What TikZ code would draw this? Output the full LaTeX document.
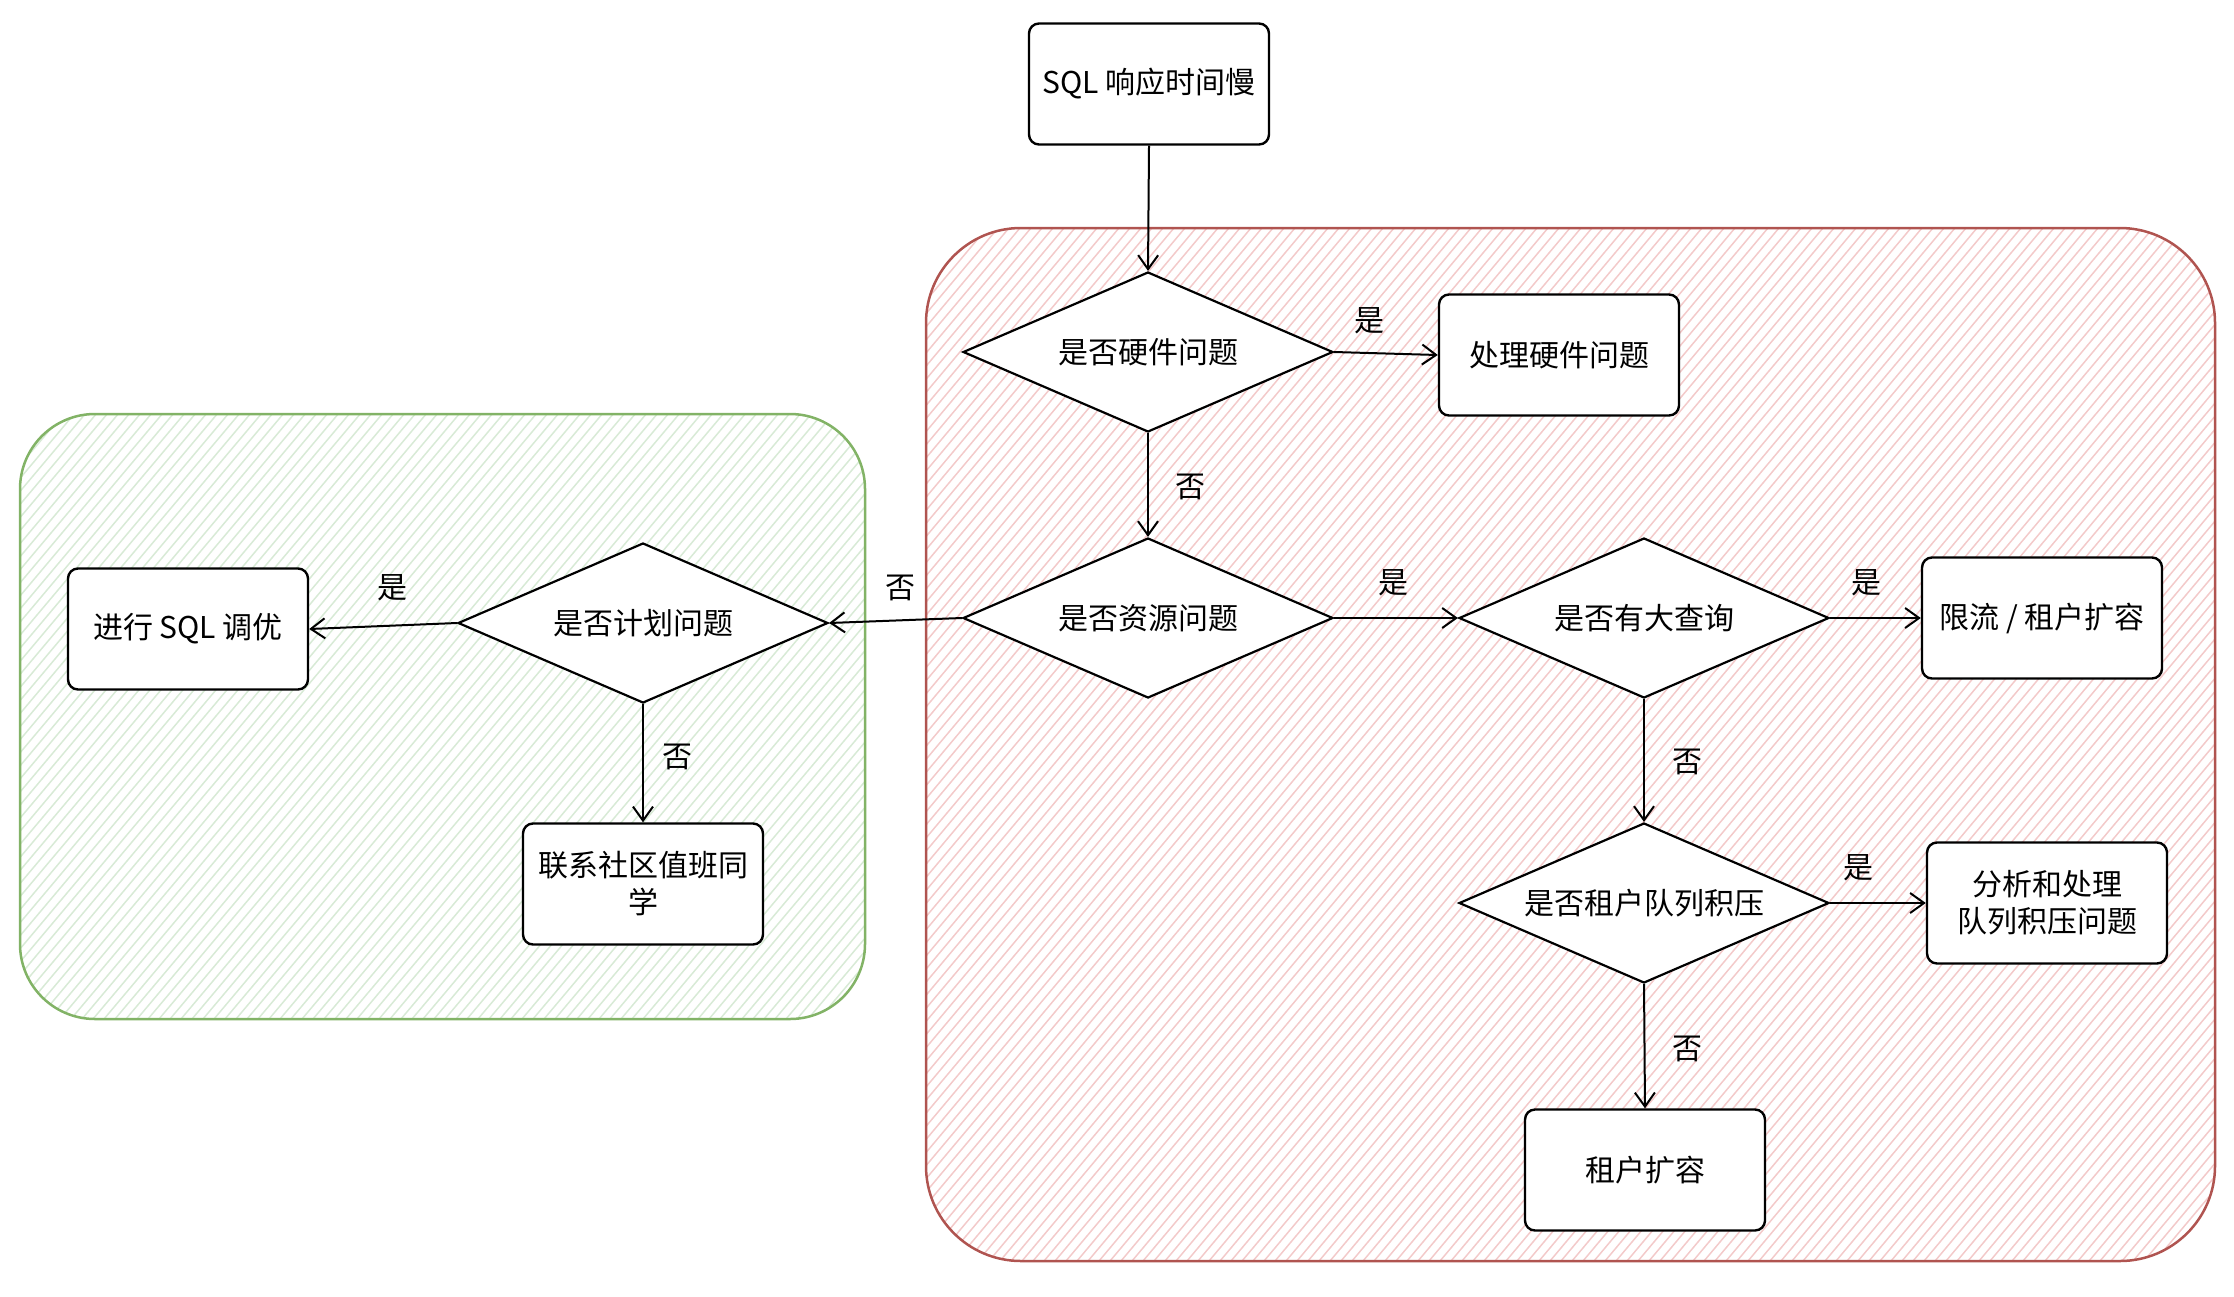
\documentclass[tikz,border=0pt]{standalone}
\usepackage{fontspec}
\setmainfont{Noto Sans CJK SC}
\usetikzlibrary{shapes.geometric,arrows.meta}
\definecolor{redstroke}{HTML}{B05450}
\definecolor{redhatch}{HTML}{F3CACA}
\definecolor{greenstroke}{HTML}{82B366}
\definecolor{greenhatch}{HTML}{D8EAD6}
\begin{document}
\begin{tikzpicture}[x=1pt,y=-1pt,
  txt/.style={font=\fontsize{30}{37}\selectfont},
  box/.style={txt, draw, line width=2.4pt, fill=white, rounded corners=10pt,
    minimum width=240pt, minimum height=121pt, inner sep=0pt, align=center},
  dec/.style={txt, draw, diamond, line width=2.2pt, fill=white, aspect=2.3,
    minimum width=370pt, minimum height=160pt, inner sep=0pt},
  arr/.style={line width=2pt, -{Straight Barb[length=14pt,width=20pt]}},
  lbl/.style={txt, inner sep=0pt}]
\useasboundingbox (0,0) rectangle (2234,1296);
% red region
\begin{scope}
  \clip[rounded corners=95pt] (926,228) rectangle (2215,1261);
  \foreach \x in {0,11,...,2170}
    \draw[redhatch, line width=1.5pt] (54+\x,1261) -- ++(872,-1039);
\end{scope}
\draw[redstroke, line width=2.5pt, rounded corners=95pt] (926,228) rectangle (2215,1261);
% green region
\begin{scope}
  \clip[rounded corners=75pt] (20,414) rectangle (865,1019);
  \foreach \x in {0,11,...,1360}
    \draw[greenhatch, line width=1.5pt] (-490+\x,1019) -- ++(510,-606);
\end{scope}
\draw[greenstroke, line width=2.5pt, rounded corners=75pt] (20,414) rectangle (865,1019);
% nodes
\node[box] (start) at (1149,84) {SQL 响应时间慢};
\node[dec] (hw) at (1148,352) {是否硬件问题};
\node[box] (hwfix) at (1559,355) {处理硬件问题};
\node[dec] (res) at (1148,618) {是否资源问题};
\node[dec] (big) at (1644,618) {是否有大查询};
\node[box] (limit) at (2042,618) {限流 / 租户扩容};
\node[dec] (queue) at (1644,903) {是否租户队列积压};
\node[box] (qfix) at (2047,903) {分析和处理\\队列积压问题};
\node[box] (scale) at (1645,1170) {租户扩容};
\node[dec] (plan) at (643,623) {是否计划问题};
\node[box] (tune) at (188,629) {进行 SQL 调优};
\node[box] (duty) at (643,884) {联系社区值班同\\学};
% connectors
\draw[arr] (start.south) -- (hw.north);
\draw[arr] (hw.east) -- (hwfix.west);
\draw[arr] (hw.south) -- (res.north);
\draw[arr] (res.east) -- (big.west);
\draw[arr] (res.west) -- (plan.east);
\draw[arr] (big.east) -- (limit.west);
\draw[arr] (big.south) -- (queue.north);
\draw[arr] (queue.east) -- (qfix.west);
\draw[arr] (queue.south) -- (scale.north);
\draw[arr] (plan.west) -- (tune.east);
\draw[arr] (plan.south) -- (duty.north);
% labels
\node[lbl] (l1) at (1369,321) {是};
\node[lbl] (l2) at (1190,487) {否};
\node[lbl] (l3) at (1393,583) {是};
\node[lbl] (l4) at (1866,583) {是};
\node[lbl] (l5) at (1687,762) {否};
\node[lbl] (l6) at (1858,868) {是};
\node[lbl] (l7) at (1687,1049) {否};
\node[lbl] (l8) at (900,588) {否};
\node[lbl] (l9) at (392,588) {是};
\node[lbl] (l10) at (677,757) {否};
\end{tikzpicture}
\end{document}
